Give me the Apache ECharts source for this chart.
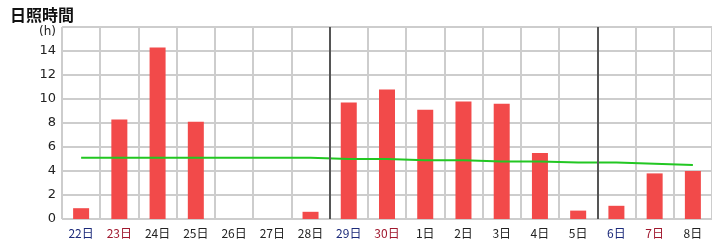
<!DOCTYPE html>
<html>
<head>
<meta charset="utf-8">
<script src="https://cdn.jsdelivr.net/npm/echarts@6/dist/echarts.min.js"></script>
<style>
  html, body { margin: 0; padding: 0; background: #fff; }
  #chart { width: 712px; height: 244px; }
</style>
</head>
<body>
<div id="chart"></div>
<script>
// days shown along the bottom
const days = ['22', '23', '24', '25', '26', '27', '28', '29', '30', '1', '2', '3', '4', '5', '6', '7', '8'];
// 0 = weekday, 1 = saturday (blue), 2 = sunday (red)
const dayKind = [1, 2, 0, 0, 0, 0, 0, 1, 2, 0, 0, 0, 0, 0, 1, 2, 0];
// sunshine hours (bars)
const sunHours = [0.9, 8.3, 14.3, 8.1, 0, 0, 0.6, 9.7, 10.8, 9.1, 9.8, 9.6, 5.5, 0.7, 1.1, 3.8, 4.0];
// normal values (green line)
const normalHours = [5.1, 5.1, 5.1, 5.1, 5.1, 5.1, 5.1, 5.0, 5.0, 4.9, 4.9, 4.8, 4.8, 4.7, 4.7, 4.6, 4.5];
// week separators, in category boundaries
const weekBreaks = [7, 14];

const chart = echarts.init(document.getElementById('chart'));
const kindStyle = ['n', 's', 'h'];

const option = {
    animation: false,
    title: {
        text: '日照時間',
        left: 5,
        top: 2,
        textStyle: { fontFamily: 'Noto Sans CJK JP', fontSize: 16, fontWeight: 'bold', color: '#111' }
    },
    grid: { left: 62, right: 0, top: 27, bottom: 25 },
    xAxis: [
        {
            type: 'category',
            data: days,
            axisLine: { show: false },
            axisTick: { show: false },
            splitLine: { show: true, interval: 0, lineStyle: { color: '#cdcdcd', width: 2 } },
            axisLabel: {
                interval: 0,
                margin: 8,
                formatter: (v, i) => '{' + kindStyle[dayKind[i]] + '|' + v + '日}',
                rich: {
                    n: { color: '#222', fontSize: 12, fontFamily: 'Noto Sans CJK JP' },
                    s: { color: '#1c2a7a', fontSize: 12, fontFamily: 'Noto Sans CJK JP' },
                    h: { color: '#a0182e', fontSize: 12, fontFamily: 'Noto Sans CJK JP' }
                }
            }
        },
        {
            type: 'value',
            min: 0,
            max: days.length,
            show: false
        }
    ],
    yAxis: {
        type: 'value',
        min: 0,
        max: 16,
        interval: 2,
        axisLine: { show: false },
        axisTick: { show: false },
        splitLine: { lineStyle: { color: '#cdcdcd', width: 2 } },
        axisLabel: {
            margin: 6,
            color: '#222',
            fontSize: 13,
            fontFamily: 'DejaVu Sans',
            formatter: v => (v === 16 ? '{u|(h)}' : v),
            rich: {
                u: { fontSize: 12, color: '#222', fontFamily: 'DejaVu Sans', padding: [10, 0, 0, 0] }
            }
        }
    },
    series: [
        {
            type: 'bar',
            data: sunHours,
            barWidth: 16,
            itemStyle: { color: '#f24a4a' }
        },
        {
            type: 'line',
            data: normalHours,
            symbol: 'none',
            lineStyle: { color: '#22c722', width: 2 },
            z: 3
        },
        {
            type: 'line',
            xAxisIndex: 1,
            data: [],
            markLine: {
                silent: true,
                symbol: 'none',
                label: { show: false },
                lineStyle: { color: '#555', width: 2, type: 'solid' },
                data: weekBreaks.map(b => ({ xAxis: b }))
            }
        }
    ]
};

chart.setOption(option);
</script>
</body>
</html>
